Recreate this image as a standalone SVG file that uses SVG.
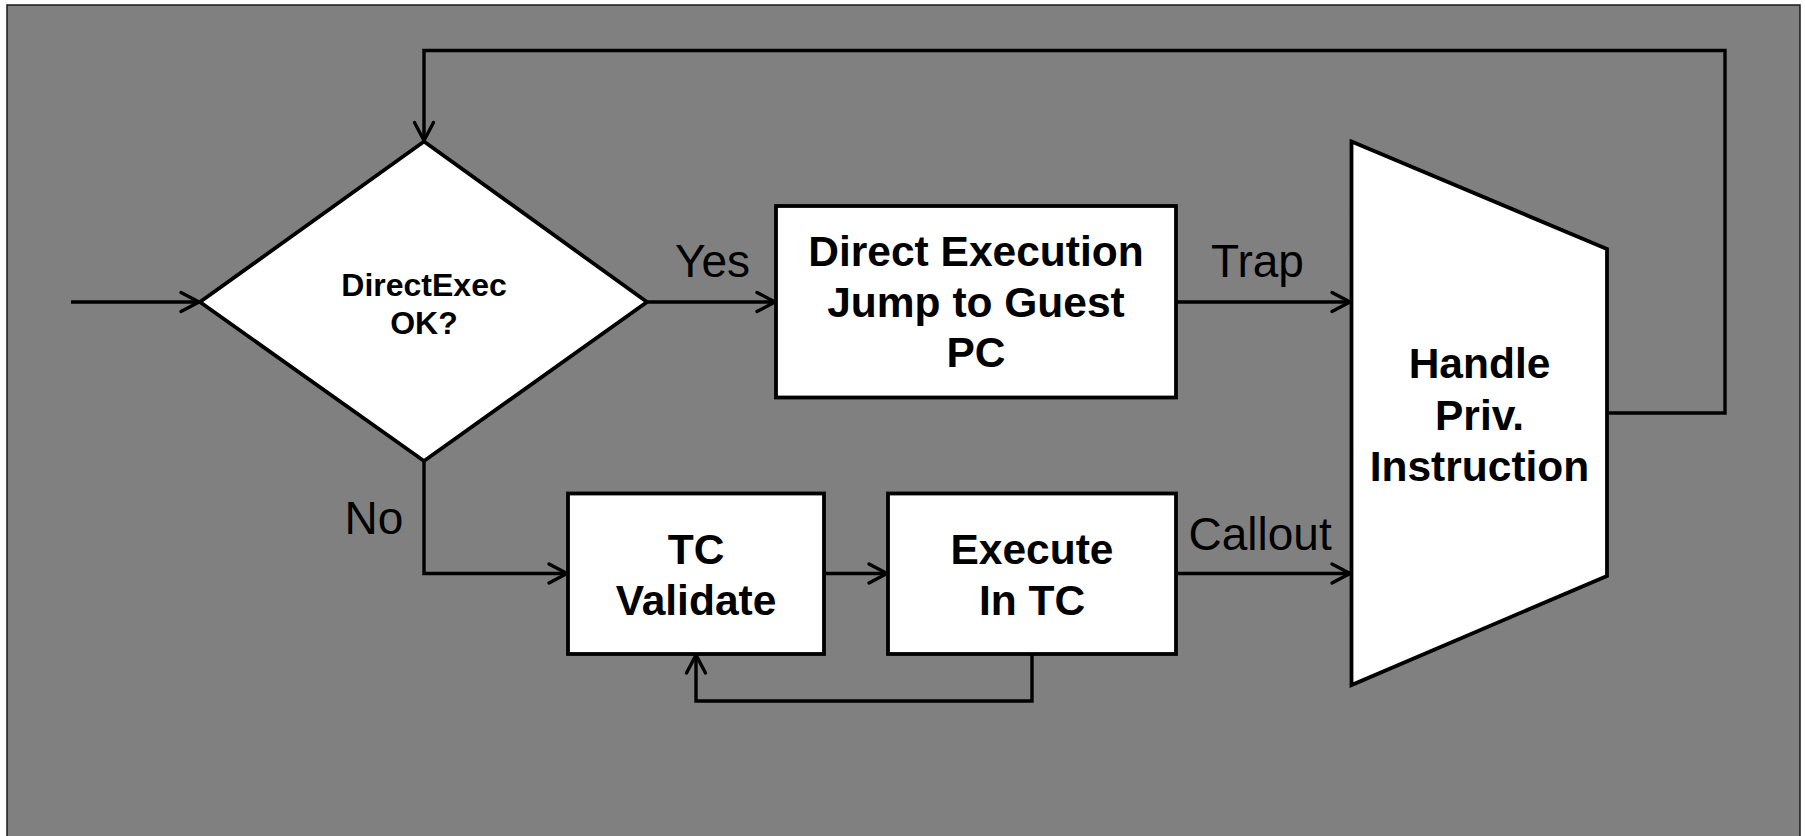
<svg xmlns="http://www.w3.org/2000/svg" width="1805" height="836" viewBox="0 0 1805 836">
<style>
.shape{fill:#ffffff;stroke:#000000;stroke-width:3.8;stroke-linejoin:miter}
.conn{fill:none;stroke:#000000;stroke-width:3.4;stroke-linejoin:miter}
.t{font-family:"Liberation Sans",Arial,sans-serif;font-weight:bold;font-size:42.5px;fill:#000000;text-anchor:middle}
.td{font-family:"Liberation Sans",Arial,sans-serif;font-weight:bold;font-size:32px;fill:#000000;text-anchor:middle}
.lbl{font-family:"Liberation Sans",Arial,sans-serif;font-size:46px;fill:#000000}
</style>
<defs>
<marker id="ah" markerUnits="userSpaceOnUse" markerWidth="40" markerHeight="40" viewBox="-30 -20 40 40" refX="0" refY="0" orient="auto" overflow="visible">
<path d="M-19,-9.5 L-1,0 L-19,9.5" fill="none" stroke="#000000" stroke-width="3.4" stroke-linejoin="round" stroke-linecap="round"/>
</marker>
</defs>
<rect x="7" y="5" width="1793" height="845" fill="#808080" stroke="#1a1a1a" stroke-width="1.5"/>
<g id="connectors">
<path class="conn" d="M71,302 H200" marker-end="url(#ah)"/>
<path class="conn" d="M647,302 H776" marker-end="url(#ah)"/>
<path class="conn" d="M1176,302 H1351" marker-end="url(#ah)"/>
<path class="conn" d="M424,461 V573.5 H568" marker-end="url(#ah)"/>
<path class="conn" d="M824,573.5 H888" marker-end="url(#ah)"/>
<path class="conn" d="M1176,573.5 H1351" marker-end="url(#ah)"/>
<path class="conn" d="M1032,654 V701 H696 V654" marker-end="url(#ah)"/>
<path class="conn" d="M1607,413 H1725 V50.5 H424 V141.5" marker-end="url(#ah)"/>
</g>
<g id="labels">
<text class="lbl" x="675" y="277">Yes</text>
<text class="lbl" x="1211" y="277">Trap</text>
<text class="lbl" x="344.5" y="533.5">No</text>
<text class="lbl" x="1188.5" y="550">Callout</text>
</g>
<g id="node-decision">
<polygon class="shape" points="424,141.5 647,302 424,461 200,302"/>
<text class="td" x="424" y="295.5">DirectExec</text>
<text class="td" x="424" y="334">OK?</text>
</g>
<g id="node-direct">
<rect class="shape" x="776" y="206" width="400" height="191.5"/>
<text class="t" x="976" y="266">Direct Execution</text>
<text class="t" x="976" y="316.5">Jump to Guest</text>
<text class="t" x="976" y="367">PC</text>
</g>
<g id="node-validate">
<rect class="shape" x="568" y="493.5" width="256" height="160.5"/>
<text class="t" x="696" y="563.5">TC</text>
<text class="t" x="696" y="615">Validate</text>
</g>
<g id="node-execute">
<rect class="shape" x="888" y="493.5" width="288" height="160.5"/>
<text class="t" x="1032" y="563.5">Execute</text>
<text class="t" x="1032" y="615">In TC</text>
</g>
<g id="node-handle">
<polygon class="shape" points="1351.5,141.5 1607,249 1607,576 1351.5,685"/>
<text class="t" x="1479.5" y="378">Handle</text>
<text class="t" x="1479.5" y="429.5">Priv.</text>
<text class="t" x="1479.5" y="481">Instruction</text>
</g>
</svg>
